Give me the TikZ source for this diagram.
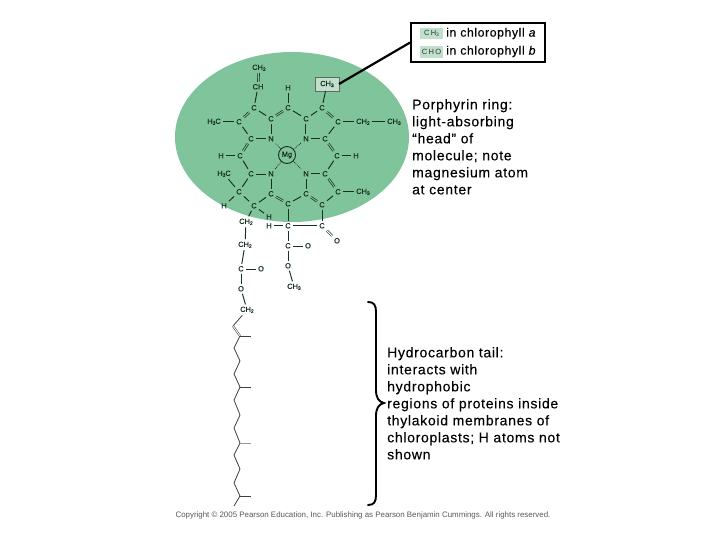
\documentclass[tikz,border=0pt]{standalone}
\usepackage{fontspec}
\setmainfont{Liberation Sans}
\newfontfamily\labfont[LetterSpace=5,FakeBold=0.15]{Liberation Sans}
\newfontfamily\keyfont[LetterSpace=18]{Liberation Sans}
\newfontfamily\atomfont[FakeBold=0.3]{Liberation Sans}
\newcommand{\sbs}[1]{\raisebox{-1pt}{\fontsize{5}{5}\selectfont #1}}
\definecolor{headgreen}{HTML}{80C49B}
\definecolor{boxgreen}{HTML}{BFE0CC}
\definecolor{bondink}{HTML}{17301F}
\tikzset{
  atom/.style={font=\fontsize{7.4}{8}\selectfont\atomfont, text=bondink, inner sep=2.3pt, outer sep=0pt, yshift=-.8pt},
  bond/.style={draw=bondink, line width=.95pt},
  dbl/.style={draw=bondink, line width=.7pt, double=headgreen, double distance=1pt},
  dblw/.style={draw=bondink, line width=.7pt, double=white, double distance=1pt},
  coord/.style={draw=bondink, line width=.8pt, densely dotted},
  tailbond/.style={draw=black!75, line width=.8pt},
  lab/.style={font=\fontsize{14}{17}\selectfont\labfont, anchor=north west, align=left, inner sep=0pt, text=black},
  keytxt/.style={font=\fontsize{12.2}{13}\selectfont\labfont, anchor=west, inner sep=0pt},
  swatch/.style={fill=boxgreen, draw=none, minimum width=23pt, inner sep=0pt, font=\fontsize{7.5}{8}\selectfont\keyfont, text=black!80}
}
\begin{document}
\begin{tikzpicture}[x=1pt,y=-1pt]
\useasboundingbox (0,0) rectangle (720,540);
\fill[white] (0,0) rectangle (720,540);
\fill[headgreen] (292,137) ellipse [x radius=117, y radius=85];
% atoms
\node[atom] (ch2top) at (259,67) {CH\sbs{2}};
\node[atom] (ch) at (258,86) {CH};
\node[atom] (ca) at (254,107) {C};
\node[atom] (cb) at (239,121) {C};
\node[atom] (h3c1) at (214,121) {H\sbs{3}C};
\node[atom] (cc) at (271,118) {C};
\node[atom] (ce) at (288,107) {C};
\node[atom] (he) at (288,87) {H};
\node[atom] (cf) at (306,118) {C};
\node[atom] (ch_) at (322,107) {C};
\node[atom, draw=black!60, line width=.7pt, fill=boxgreen, minimum width=24pt, minimum height=14pt, inner sep=1pt, yshift=.8pt] (ch3box) at (327,84) {CH\sbs{3}};
\node[atom] (ci) at (338,121) {C};
\node[atom] (ch2r) at (363,121) {CH\sbs{2}};
\node[atom] (ch3r) at (394,121) {CH\sbs{3}};
\node[atom] (cd) at (251,138) {C};
\node[atom] (n1) at (271,138) {N};
\node[atom] (n2) at (306,138) {N};
\node[atom] (cg) at (325,138) {C};
\node[atom] (cs) at (240,155) {C};
\node[atom] (hs) at (221,155) {H};
\node[atom, circle, draw=bondink, line width=.9pt, minimum size=17pt, inner sep=0pt, yshift=.8pt] (mg) at (287,155) {Mg};
\node[atom] (cj) at (337,155) {C};
\node[atom] (hj) at (356,155) {H};
\node[atom] (cq) at (251,173) {C};
\node[atom] (n4) at (271,173) {N};
\node[atom] (n3) at (306,173) {N};
\node[atom] (ck) at (325,173) {C};
\node[atom] (cl) at (338,191) {C};
\node[atom] (ch3l) at (363,191) {CH\sbs{3}};
\node[atom] (ct) at (239,191) {C};
\node[atom] (h3c2) at (224,173) {H\sbs{3}C};
\node[atom] (ht) at (224,205) {H};
\node[atom] (cr) at (254,205) {C};
\node[atom] (cp) at (271,193) {C};
\node[atom] (co) at (288,203) {C};
\node[atom] (cn) at (306,193) {C};
\node[atom] (cm) at (322,204) {C};
\node[atom] (hr) at (269,216) {H};
\node[atom] (ch2a) at (246,221) {CH\sbs{2}};
\node[atom] (hb) at (269,225) {H};
\node[atom] (cu) at (288,225) {C};
\node[atom] (cv) at (322,225) {C};
\node[atom] (ov) at (337,240) {O};
\node[atom] (cw) at (288,245) {C};
\node[atom] (ow) at (308,245) {O};
\node[atom] (ox) at (288,265) {O};
\node[atom] (ch3x) at (294,286) {CH\sbs{3}};
\node[atom] (ch2b) at (245,244) {CH\sbs{2}};
\node[atom] (cy) at (241,268) {C};
\node[atom] (oy) at (261,268) {O};
\node[atom] (oz) at (241,288) {O};
\node[atom] (ch2c) at (247,309) {CH\sbs{2}};
% bonds
\draw[dbl] (ch2top) -- (ch);
\draw[dbl] (ca) -- (cb);
\draw[dbl] (cc) -- (ce);
\draw[dbl] (cf) -- (n2);
\draw[dbl] (ch_) -- (ci);
\draw[dbl] (cg) -- (cj);
\draw[dbl] (cd) -- (cs);
\draw[dbl] (ck) -- (cl);
\draw[dbl] (cm) -- (cn);
\draw[dbl] (co) -- (cp);
\draw[dbl] (n4) -- (cq);
\draw[bond] (ch) -- (ca);
\draw[bond] (ca) -- (cc);
\draw[bond] (cb) -- (h3c1);
\draw[bond] (cb) -- (cd);
\draw[bond] (cd) -- (n1);
\draw[bond] (n1) -- (cc);
\draw[bond] (ce) -- (he);
\draw[bond] (ce) -- (cf);
\draw[bond] (n2) -- (cg);
\draw[bond] (cf) -- (ch_);
\draw[bond] (ch_) -- (ch3box);
\draw[bond] (ci) -- (ch2r);
\draw[bond] (ch2r) -- (ch3r);
\draw[bond] (ci) -- (cg);
\draw[bond] (cj) -- (hj);
\draw[bond] (cj) -- (ck);
\draw[bond] (n3) -- (ck);
\draw[bond] (cl) -- (ch3l);
\draw[bond] (cl) -- (cm);
\draw[bond] (cn) -- (n3);
\draw[bond] (cn) -- (co);
\draw[bond] (cp) -- (n4);
\draw[bond] (cs) -- (hs);
\draw[bond] (cs) -- (cq);
\draw[bond] (cq) -- (ct);
\draw[bond] (h3c2) -- (ct);
\draw[bond] (ct) -- (ht);
\draw[bond] (ct) -- (cr);
\draw[bond] (cr) -- (cp);
\draw[bond] (cr) -- (ch2a);
\draw[bond] (cr) -- (hr);
\draw[bond] (co) -- (cu);
\draw[bond] (cm) -- (cv);
\draw[bond] (hb) -- (cu);
\draw[bond] (cu) -- (cv);
\draw[dblw] (cv) -- (ov);
\draw[bond] (cu) -- (cw);
\draw[dblw] (cw) -- (ow);
\draw[bond] (cw) -- (ox);
\draw[bond] (ox) -- (ch3x);
\draw[bond] (ch2a) -- (ch2b);
\draw[bond] (ch2b) -- (cy);
\draw[dblw] (cy) -- (oy);
\draw[bond] (cy) -- (oz);
\draw[bond] (oz) -- (ch2c);
\draw[coord] (mg) -- (n1);
\draw[coord] (mg) -- (n2);
\draw[coord] (mg) -- (n3);
\draw[coord] (mg) -- (n4);
% tail
\coordinate (t0) at (233,326);
\coordinate (t1) at (240,336);
\coordinate (m1) at (251,336);
\coordinate (t2) at (234,348);
\coordinate (t3) at (240,361);
\coordinate (t4) at (234,374);
\coordinate (t5) at (240,387);
\coordinate (m2) at (251,387);
\coordinate (t6) at (234,400);
\coordinate (t7) at (240,415);
\coordinate (t8) at (234,428);
\coordinate (t9) at (240,443);
\coordinate (m3) at (251,443);
\coordinate (t10) at (234,455);
\coordinate (t11) at (240,469);
\coordinate (t12) at (234,483);
\coordinate (t13) at (240,496);
\coordinate (m4) at (251,496);
\coordinate (t14) at (234,506);
\draw[tailbond] (ch2c) -- (t0);
\draw[tailbond, double=white, double distance=.9pt, line width=.55pt] (t0) -- (t1);
\draw[tailbond] (t1) -- (t2) -- (t3) -- (t4) -- (t5) -- (t6) -- (t7) -- (t8) -- (t9) -- (t10) -- (t11) -- (t12) -- (t13) -- (t14);
\draw[tailbond] (t1) -- (m1);
\draw[tailbond] (t5) -- (m2);
\draw[draw=black!40, line width=.8pt] (t9) -- (m3);
\draw[tailbond] (t13) -- (m4);
% key box
\node[draw=black, line width=1.7pt, fill=white, minimum width=134pt, minimum height=39pt, inner sep=0pt] (keybox) at (478,42.5) {};
\node[swatch, minimum height=11.5pt] (sw1) at (431.5,33.5) {CH\raisebox{-1pt}{\fontsize{5}{5}\selectfont\keyfont 3}};
\node[swatch, minimum height=12pt] (sw2) at (431.5,52) {CHO};
\node[keytxt] (kt1) at (446,33.5) {in chlorophyll \textit{a}};
\node[keytxt] (kt2) at (446,51.5) {in chlorophyll \textit{b}};
\draw[draw=black, line width=2.2pt] (keybox.west) -- (ch3box.east);
% labels
\node[lab] (porph) at (412,99) {Porphyrin ring:\\light-absorbing\\“head” of\\molecule; note\\magnesium atom\\at center};
\node[lab] (tail) at (387,347) {Hydrocarbon tail:\\interacts with\\hydrophobic\\regions of proteins inside\\thylakoid membranes of\\chloroplasts; H atoms not\\shown};
% brace
\draw[black, line width=1.9pt, line cap=round] (368,302) .. controls (374,302) and (376,305) .. (376,312) -- (376,390) .. controls (376,398) and (379,402) .. (384,403) .. controls (379,404) and (376,408) .. (376,416) -- (376,495) .. controls (376,502) and (374,505) .. (368,505);
\node[font=\fontsize{7.9}{9}\selectfont, text=black!65, inner sep=0pt] (copy) at (363,515) {Copyright © 2005 Pearson Education, Inc. Publishing as Pearson Benjamin Cummings. All rights reserved.};
\end{tikzpicture}
\end{document}
